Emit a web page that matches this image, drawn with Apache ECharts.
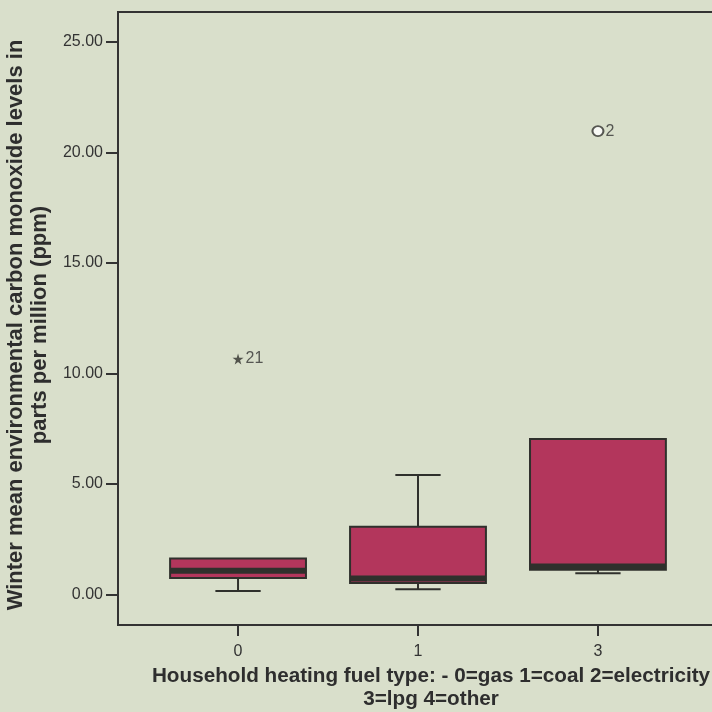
<!DOCTYPE html>
<html><head><meta charset="utf-8">
<script src="https://cdn.jsdelivr.net/npm/echarts@6/dist/echarts.min.js"></script>
<style>html,body{margin:0;padding:0;background:#d9dfcb;} #c{width:712px;height:712px;}</style>
</head><body><div id="c"></div>
<script>
const categories = ['0', '1', '3'];
const boxMin = [0.15, 0.23, 0.95];
const boxQ1 = [0.74, 0.51, 1.11];
const boxMedian = [1.06, 0.71, 1.26];
const boxQ3 = [1.62, 3.06, 7.03];
const boxMax = [1.62, 5.40, 7.03];
const extremeCat = [0];
const extremeVal = [10.65];
const extremeLabel = ['21'];
const outlierCat = [2];
const outlierVal = [20.96];
const outlierLabel = ['2'];
const yTicks = [0, 5, 10, 15, 20, 25];
const xTicks = [0, 1, 2];

const dark = '#2f302c';
const boxData = categories.map((c, i) => [i, boxMin[i], boxQ1[i], boxMedian[i], boxQ3[i], boxMax[i]]);
const extremeData = extremeCat.map((c, i) => ({ value: [c, extremeVal[i]], label: { formatter: extremeLabel[i] } }));
const outlierData = outlierCat.map((c, i) => ({ value: [c, outlierVal[i]], label: { formatter: outlierLabel[i] } }));

const chart = echarts.init(document.getElementById('c'), null, { renderer: 'canvas' });
chart.setOption({
  animation: false,
  backgroundColor: '#d9dfcb',
  grid: { left: 118, top: 12, right: -4, bottom: 87, show: true, borderColor: '#333', borderWidth: 2, outerBoundsMode: 'none' },
  xAxis: {
    type: 'value', min: -0.667, max: 2.656,
    name: 'Household heating fuel type: - 0=gas 1=coal 2=electricity\n3=lpg 4=other',
    nameLocation: 'middle', nameGap: 40,
    nameTextStyle: { fontFamily: 'Liberation Sans, Arial', fontWeight: 'bold', fontSize: 20.7, color: '#2e2e2e', lineHeight: 23, padding: [0, 0, 0, 28], verticalAlign: 'top' },
    axisLine: { show: true, onZero: false, lineStyle: { color: '#333', width: 2 } },
    axisTick: { show: true, customValues: xTicks, length: 11, lineStyle: { color: '#333', width: 2 } },
    axisLabel: { customValues: xTicks, formatter: v => categories[Math.round(v)], fontFamily: 'Liberation Sans, Arial', fontSize: 16, color: '#333', margin: 19 },
    splitLine: { show: false }
  },
  yAxis: {
    type: 'value', min: -1.39, max: 26.35,
    name: 'Winter mean environmental carbon monoxide levels in\nparts per million (ppm)',
    nameLocation: 'middle', nameGap: 58,
    nameTextStyle: { fontFamily: 'Liberation Sans, Arial', fontWeight: 'bold', fontSize: 22, color: '#2e2e2e', lineHeight: 24, padding: [0, 13, 0, 0] },
    axisLine: { show: true, onZero: false, lineStyle: { color: '#333', width: 2 } },
    axisTick: { show: true, customValues: yTicks, length: 12, lineStyle: { color: '#333', width: 2 } },
    axisLabel: { customValues: yTicks, formatter: v => v.toFixed(2), fontFamily: 'Liberation Sans, Arial', fontSize: 16, color: '#333', margin: 15 },
    splitLine: { show: false }
  },
  series: [
    {
      type: 'custom',
      data: boxData,
      encode: { x: 0, y: [1, 2, 3, 4, 5] },
      renderItem: function (params, api) {
        const i = api.value(0);
        const bw = api.size([1, 0])[0] * 0.755;
        const capW = bw / 3;
        const pMin = api.coord([i, api.value(1)]);
        const pQ1 = api.coord([i, api.value(2)]);
        const pMed = api.coord([i, api.value(3)]);
        const pQ3 = api.coord([i, api.value(4)]);
        const pMax = api.coord([i, api.value(5)]);
        const x = pQ1[0];
        const ls = { stroke: dark, lineWidth: 2 };
        const ch = [];
        if (pMax[1] < pQ3[1] - 0.5) {
          ch.push({ type: 'line', shape: { x1: x, y1: pQ3[1], x2: x, y2: pMax[1] }, style: ls });
          ch.push({ type: 'line', shape: { x1: x - capW / 2, y1: pMax[1], x2: x + capW / 2, y2: pMax[1] }, style: ls });
        }
        if (pMin[1] > pQ1[1] + 0.5) {
          ch.push({ type: 'line', shape: { x1: x, y1: pQ1[1], x2: x, y2: pMin[1] }, style: ls });
          ch.push({ type: 'line', shape: { x1: x - capW / 2, y1: pMin[1], x2: x + capW / 2, y2: pMin[1] }, style: ls });
        }
        ch.push({ type: 'rect', shape: { x: x - bw / 2, y: pQ3[1], width: bw, height: pQ1[1] - pQ3[1] }, style: { fill: '#b3365c', stroke: dark, lineWidth: 2 } });
        ch.push({ type: 'line', shape: { x1: x - bw / 2, y1: pMed[1], x2: x + bw / 2, y2: pMed[1] }, style: { stroke: dark, lineWidth: 6 } });
        return { type: 'group', children: ch };
      }
    },
    {
      type: 'scatter',
      data: extremeData,
      symbol: 'path://M50,0 L61,35 L98,35 L68,57 L79,91 L50,70 L21,91 L32,57 L2,35 L39,35 Z',
      symbolSize: 11,
      itemStyle: { color: dark },
      label: { show: true, position: 'right', distance: 2, fontFamily: 'Liberation Sans, Arial', fontSize: 16, color: '#333' }
    },
    {
      type: 'scatter',
      data: outlierData,
      symbol: 'emptyCircle',
      symbolSize: [11, 10],
      itemStyle: { color: dark, borderColor: dark, borderWidth: 1.6 },
      label: { show: true, position: 'right', distance: 1, fontFamily: 'Liberation Sans, Arial', fontSize: 16, color: '#333' }
    }
  ]
});
</script>
</body></html>
